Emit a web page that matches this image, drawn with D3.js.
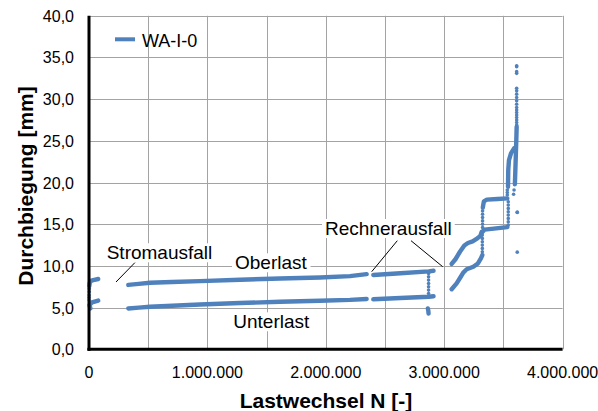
<!DOCTYPE html>
<html>
<head>
<meta charset="utf-8">
<script src="https://cdn.jsdelivr.net/npm/d3@7"></script>
<style>
  html, body { margin: 0; padding: 0; background: #fff; }
  svg { display: block; font-family: "Liberation Sans", Arial, sans-serif; }
</style>
</head>
<body>
<svg id="chart" width="598" height="411"></svg>
<script>
// Durchbiegung über Lastwechsel, Versuch WA-I-0
// Values: [Lastwechsel N, Durchbiegung mm]

const seriesName = "WA-I-0";
const xTickValues = [0, 1000000, 2000000, 3000000, 4000000];
const yTickValues = [0, 5, 10, 15, 20, 25, 30, 35, 40];

// Oberlast, dichte Messabschnitte
const oberlastStart = [[3000, 7.6], [6000, 7.95], [15000, 8.2], [36000, 8.3], [78000, 8.43]];
const oberlastA = [[332000, 7.72], [420000, 7.85], [515000, 7.98], [700000, 8.08], [937000, 8.18],
                   [1275000, 8.35], [1613000, 8.5], [1951000, 8.62], [2204000, 8.78], [2345000, 9.02]];
const oberlastB = [[2401000, 8.92], [2630000, 9.12], [2870000, 9.35], [2910000, 9.42]];
const oberlastC = [[3063000, 10.24], [3095000, 10.8], [3133000, 11.7], [3170000, 12.45], [3200000, 12.75],
                   [3240000, 12.95], [3280000, 13.3], [3305000, 13.6], [3317000, 14.1]];
const oberlastD = [[3326000, 17.0], [3335000, 17.75], [3360000, 17.95], [3450000, 18.02], [3533000, 18.1]];
const oberlastE = [[3597000, 19.8], [3601000, 21.5], [3605000, 23.3], [3609000, 25.1], [3612000, 26.7]];

// Unterlast, dichte Messabschnitte
const unterlastStart = [[12000, 4.9], [4000, 5.3], [25000, 5.62], [78000, 5.85]];
const unterlastA = [[332000, 4.9], [420000, 5.0], [515000, 5.1], [937000, 5.37], [1275000, 5.55],
                    [1613000, 5.7], [1951000, 5.83], [2204000, 5.93], [2345000, 6.03]];
const unterlastB = [[2401000, 6.0], [2630000, 6.15], [2870000, 6.3], [2910000, 6.36]];
const unterlastC = [[3063000, 7.2], [3105000, 7.9], [3140000, 8.7], [3161000, 9.2], [3190000, 9.6],
                    [3246000, 9.9], [3285000, 10.3], [3310000, 10.9], [3322000, 11.3]];
const unterlastD = [[3324000, 14.1], [3340000, 14.35], [3400000, 14.45], [3533000, 14.66]];
const unterlastE = [[3539000, 19.5], [3541000, 21.5], [3547000, 22.7], [3564000, 23.5], [3590000, 24.1]];
const sturzAbschnitt = [[2862000, 4.9], [2866000, 4.6], [2868000, 4.3]];

// Einzelne Messpunkte (Sprünge, Ausreißer)
const einzelpunkte = [
  [1500, 0.0], [1500, 5.9], [1500, 6.2], [1500, 6.5], [2500, 6.9], [2500, 7.25],
  [2868000, 9.1], [2868000, 8.7], [2868000, 8.3], [2868000, 7.9], [2868000, 7.5], [2868000, 7.1], [2868000, 6.7],
  [3322000, 11.7], [3322000, 12.1], [3322000, 12.5], [3322000, 12.9], [3322000, 13.3], [3322000, 13.7],
  [3324000, 14.6], [3324000, 15.0], [3324000, 15.4], [3324000, 15.8], [3324000, 16.2], [3324000, 16.6],
  [3541000, 14.9], [3541000, 15.3], [3541000, 15.7], [3541000, 16.1], [3541000, 16.5], [3541000, 16.9],
  [3541000, 17.3], [3541000, 17.7],
  [3533000, 18.5], [3533000, 18.8], [3533000, 19.1],
  [3590000, 19.1], [3586000, 18.6],
  [3612000, 26.9], [3612000, 27.2], [3612000, 27.5], [3612000, 27.8], [3612000, 28.1], [3612000, 28.4],
  [3612000, 28.7], [3612000, 29.0], [3612000, 29.4], [3612000, 29.8], [3612000, 30.2], [3612000, 30.6],
  [3612000, 31.0], [3612000, 31.3], [3612000, 33.1], [3612000, 33.3], [3612000, 33.9], [3612000, 34.0],
  [3617000, 16.4], [3617000, 16.45], [3617000, 11.65]
];

const denseSegments = [oberlastStart, oberlastA, oberlastB, oberlastC, oberlastD, oberlastE,
                       unterlastStart, unterlastA, unterlastB, unterlastC, unterlastD, unterlastE,
                       sturzAbschnitt];

const color = "#4f81bd";
const svg = d3.select("#chart");

const x = d3.scaleLinear().domain([0, 4000000]).range([89, 562.6]);
const y = d3.scaleLinear().domain([0, 40]).range([349.3, 15.8]);

const de = d3.formatLocale({decimal: ",", thousands: ".", grouping: [3], currency: ["", " €"]});
const fmtX = de.format(",");
const fmtY = de.format(",.1f");

// Gitternetz
const grid = svg.append("g").attr("stroke", "#a3a3a3").attr("stroke-width", 1);
d3.range(500000, 4000001, 500000).forEach(v => {
  const px = Math.round(x(v)) + 0.5;
  grid.append("line").attr("x1", px).attr("x2", px).attr("y1", y(40)).attr("y2", y(0));
});
yTickValues.filter(v => v > 0).forEach(v => {
  const py = Math.round(y(v)) + 0.5;
  grid.append("line").attr("x1", x(0)).attr("x2", x(4000000)).attr("y1", py).attr("y2", py);
});

// Messdaten
const line = d3.line().x(d => x(d[0])).y(d => y(d[1])).curve(d3.curveMonotoneY);
const lineX = d3.line().x(d => x(d[0])).y(d => y(d[1])).curve(d3.curveLinear);
const data = svg.append("g");
denseSegments.forEach(seg => {
  data.append("path")
    .attr("d", lineX(seg))
    .attr("fill", "none")
    .attr("stroke", color)
    .attr("stroke-width", 4.4)
    .attr("stroke-linecap", "round")
    .attr("stroke-linejoin", "round");
});
data.selectAll("circle.pt").data(einzelpunkte).join("circle")
  .attr("class", "pt")
  .attr("cx", d => x(d[0]))
  .attr("cy", d => y(d[1]))
  .attr("r", 1.8)
  .attr("fill", color);

// Achsen
svg.append("line").attr("x1", x(0)).attr("x2", x(0)).attr("y1", y(40)).attr("y2", y(0) + 1.5)
  .attr("stroke", "#000").attr("stroke-width", 3);
svg.append("line").attr("x1", x(0) - 1.5).attr("x2", x(4000000)).attr("y1", y(0)).attr("y2", y(0))
  .attr("stroke", "#000").attr("stroke-width", 3);

// Achsenbeschriftung
svg.append("g").selectAll("text").data(xTickValues).join("text")
  .attr("x", d => x(d)).attr("y", 377.5)
  .attr("text-anchor", "middle")
  .attr("font-size", 16)
  .text(d => fmtX(d));
svg.append("g").selectAll("text").data(yTickValues).join("text")
  .attr("x", 74).attr("y", d => y(d) + 6)
  .attr("text-anchor", "end")
  .attr("font-size", 16)
  .text(d => fmtY(d));

svg.append("text")
  .attr("x", 326).attr("y", 408)
  .attr("text-anchor", "middle")
  .attr("font-size", 21).attr("font-weight", "bold")
  .text("Lastwechsel N [-]");
svg.append("text")
  .attr("transform", "translate(33,186) rotate(-90)")
  .attr("text-anchor", "middle")
  .attr("font-size", 21).attr("font-weight", "bold")
  .text("Durchbiegung [mm]");

// Anmerkungen mit Hinweislinien
const notes = [
  {text: "Stromausfall", x: 106.7, y: 259.3},
  {text: "Oberlast", x: 235, y: 269.3},
  {text: "Unterlast", x: 233.3, y: 328.3},
  {text: "Rechnerausfall", x: 325, y: 235}
];
const leaders = [
  [[135, 262.5], [116, 282]],
  [[397.3, 240.7], [371.7, 271.7]],
  [[411, 240.7], [442.7, 266.7]]
];
const noteG = svg.append("g");
leaders.forEach(l => {
  noteG.append("line").attr("x1", l[0][0]).attr("y1", l[0][1]).attr("x2", l[1][0]).attr("y2", l[1][1])
    .attr("stroke", "#000").attr("stroke-width", 1);
});
notes.forEach(n => {
  const g = noteG.append("g");
  const t = g.append("text").attr("x", n.x).attr("y", n.y).attr("font-size", 19).text(n.text);
  const b = t.node().getBBox();
  g.insert("rect", "text").attr("x", b.x - 3).attr("y", b.y + 1).attr("width", b.width + 6).attr("height", b.height - 2)
    .attr("fill", "#fff");
});

// Legende
svg.append("line").attr("x1", 115).attr("x2", 135).attr("y1", 39.3).attr("y2", 39.3)
  .attr("stroke", color).attr("stroke-width", 4);
svg.append("text").attr("x", 142).attr("y", 46.5).attr("font-size", 18).text(seriesName);
</script>
</body>
</html>
